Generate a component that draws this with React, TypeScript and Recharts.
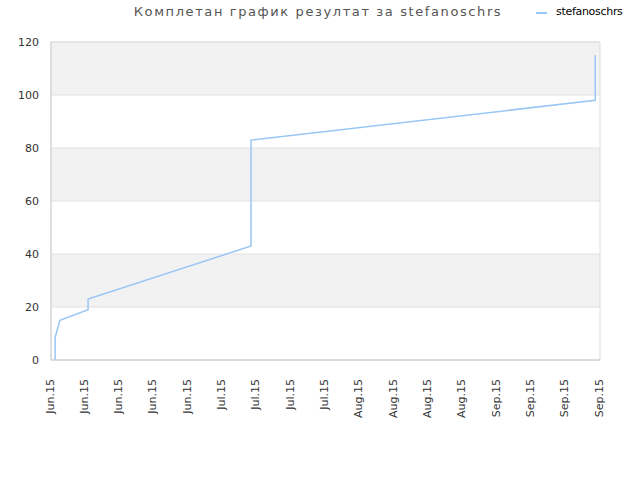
import React from 'react';
import { ComposedChart, Line, XAxis, YAxis, CartesianGrid, ReferenceArea } from 'recharts';

const xPositions = [0.12, 0.12, 0.26, 1.08, 1.08, 5.83, 5.83, 15.86, 15.86];
const scores = [0, 8.5, 15, 19, 23, 43, 83, 98, 115];
const tickLabels = [
  'Jun.15', 'Jun.15', 'Jun.15', 'Jun.15', 'Jun.15',
  'Jul.15', 'Jul.15', 'Jul.15', 'Jul.15',
  'Aug.15', 'Aug.15', 'Aug.15', 'Aug.15',
  'Sep.15', 'Sep.15', 'Sep.15', 'Sep.15',
];
const yTicks = [0, 20, 40, 60, 80, 100, 120];
const seriesName = 'stefanoschrs';
const title = 'Комплетан график резултат за stefanoschrs';

const data = xPositions.map((x, i) => ({ x, y: scores[i] }));
const xTicks = tickLabels.map((_, i) => i);

const font = '"DejaVu Sans", sans-serif';
const lineColor = '#99c7f5';

const XTick = (props: any) => {
  const { x, y, payload } = props;
  const cx = x - 1;
  const cy = y + 11;
  return (
    <text
      x={cx}
      y={cy}
      transform={`rotate(-90 ${cx} ${cy})`}
      textAnchor="end"
      dominantBaseline="central"
      fontSize={11}
      fontFamily={font}
      fill="#333"
    >
      {tickLabels[payload.value]}
    </text>
  );
};

export default function App() {
  return (
    <div style={{ position: 'absolute', left: 0, top: 0, width: 640, height: 480, background: '#fff' }}>
      <div
        style={{
          position: 'absolute', left: 0, top: 4, width: 636, textAlign: 'center',
          fontFamily: font, fontSize: 13, color: '#555', letterSpacing: 1.6,
        }}
      >
        {title}
      </div>
      <div style={{ position: 'absolute', left: 536, top: 5, display: 'flex', alignItems: 'center', fontFamily: font, fontSize: 11, color: '#000' }}>
        <span style={{ display: 'inline-block', width: 11, height: 2, background: lineColor, marginRight: 9, marginTop: 2 }} />
        <span style={{ letterSpacing: -0.3 }}>{seriesName}</span>
      </div>
      <ComposedChart
        width={640}
        height={480}
        data={data}
        margin={{ top: 42, right: 40, left: 0, bottom: 0 }}
      >
        <CartesianGrid
          vertical={false}
          stroke="#e2e2e2"
          horizontalFill={['#f2f2f2', '#ffffff']}
          fillOpacity={1}
        />
        <XAxis
          dataKey="x"
          type="number"
          domain={[0, 16]}
          ticks={xTicks}
          interval={0}
          height={120}
          tick={<XTick />}
          tickLine={false}
          axisLine={{ stroke: '#d0d0d0' }}
        />
        <YAxis
          type="number"
          domain={[0, 120]}
          ticks={yTicks}
          width={51}
          tickLine={false}
          axisLine={{ stroke: '#d0d0d0' }}
          tick={{ fontSize: 11, fontFamily: font, fill: '#333' }}
          tickMargin={6}
        />
        <ReferenceArea x1={0} x2={16} y1={0} y2={120} fill="none" stroke="#dddddd" strokeWidth={1} ifOverflow="visible" />
        <Line
          dataKey="y"
          type="linear"
          stroke={lineColor}
          strokeWidth={1.5}
          dot={false}
          isAnimationActive={false}
        />
      </ComposedChart>
    </div>
  );
}
